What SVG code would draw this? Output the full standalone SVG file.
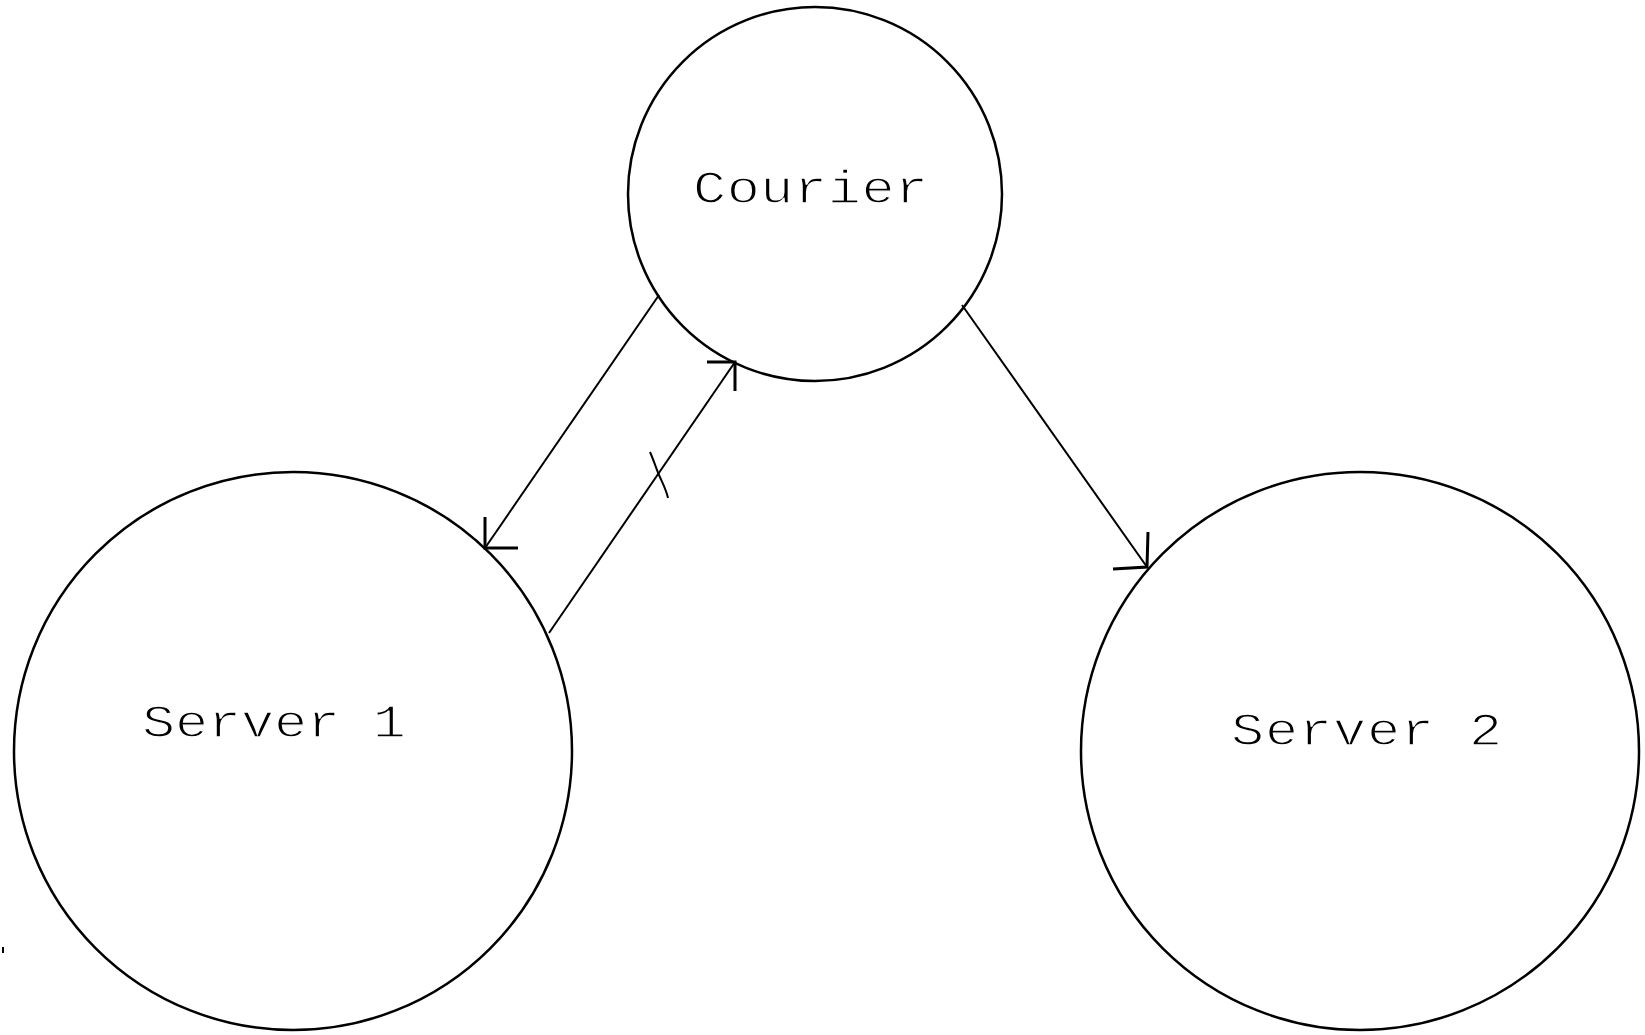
<svg xmlns="http://www.w3.org/2000/svg" width="1645" height="1035" viewBox="0 0 1645 1035">
  <style>
    .node { fill: none; stroke: #000; stroke-width: 2.5; }
    /* thin white outline trims the glyphs to a light pen weight */
    .label { font-family: "Liberation Mono", "DejaVu Sans Mono", monospace; font-size: 46px; fill: #000; stroke: #fff; stroke-width: 1.4; }
    .edge { stroke: #000; stroke-width: 2; fill: none; }
    .head { stroke: #000; stroke-width: 3; fill: none; stroke-linecap: butt; }
  </style>
  <rect width="1645" height="1035" fill="#fff"/>

  <g id="courier">
    <circle class="node" cx="815" cy="194" r="187"/>
    <!-- labels are stretched sideways to the wide plotter lettering -->
    <text class="label" transform="translate(693,203) scale(1.2,1)" x="0" y="0" textLength="196" lengthAdjust="spacing">Courier</text>
  </g>

  <g id="server1">
    <circle class="node" cx="293" cy="751" r="279"/>
    <text class="label" transform="translate(142,737) scale(1.2,1)" x="0" y="0" textLength="220" lengthAdjust="spacing">Server 1</text>
  </g>

  <g id="server2">
    <circle class="node" cx="1360" cy="751" r="279"/>
    <text class="label" transform="translate(1231,745) scale(1.2,1)" x="0" y="0" textLength="226" lengthAdjust="spacing">Server 2</text>
  </g>

  <g id="connectors">
    <!-- Courier to Server 1 -->
    <line class="edge" x1="659" y1="295" x2="485" y2="548"/>
    <path class="head" d="M485,517 L485,548 L518,548"/>
    <!-- Server 1 to Courier, with a break mark -->
    <line class="edge" x1="549" y1="633" x2="735" y2="362"/>
    <path class="head" d="M707,362 L735,362 L735,391"/>
    <path class="edge" d="M650,452 C654,461 656,468 659,475 C662,482 666,489 668,498"/>
    <!-- Courier to Server 2 -->
    <line class="edge" x1="962" y1="305" x2="1147" y2="567"/>
    <path class="head" d="M1148,532 L1147,567 L1113,569"/>
  </g>

  <rect x="2" y="947" width="2" height="6" fill="#000"/>
</svg>
